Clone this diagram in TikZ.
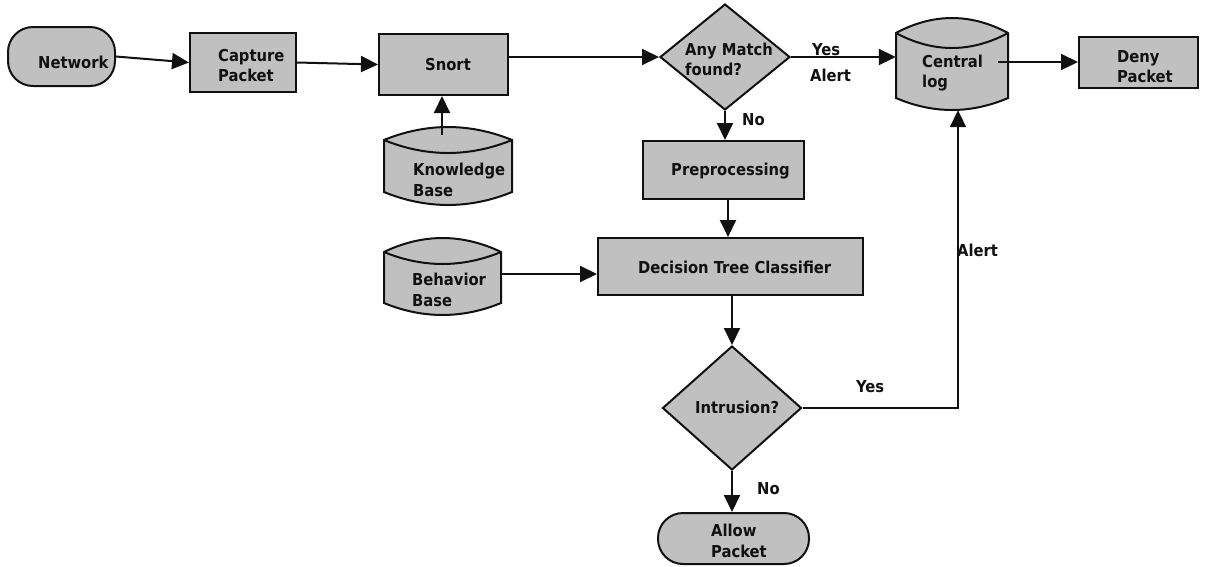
\documentclass[tikz,border=0pt]{standalone}
\usepackage{fontspec}
\setmainfont{DejaVu Sans}
\newfontfamily\lblfont{DejaVu Sans Condensed}
\usetikzlibrary{shapes.geometric,arrows.meta,calc}
\definecolor{gfill}{HTML}{C0C0C0}
\definecolor{ink}{HTML}{111111}
\begin{document}
\begin{tikzpicture}[x=1pt,y=-1pt,
  lbl/.style={anchor=base west, inner sep=0, text=ink, font=\lblfont\bfseries\fontsize{16.4}{20}\selectfont},
  shp/.style={draw=ink, fill=gfill, line width=2pt, inner sep=0},
  boxnode/.style={shp, rectangle},
  pill/.style={shp, rectangle, rounded corners=25pt},
  decide/.style={shp, diamond},
  holder/.style={inner sep=0, draw=none, rectangle},
  conn/.style={draw=ink, line width=2pt, -{Triangle[length=17pt,width=16pt]}},
  plain/.style={draw=ink, line width=2pt}
]
\useasboundingbox (0,0) rectangle (1208,566);

% ---------- shapes ----------
\node[pill, minimum width=107pt, minimum height=59pt] (net) at (61.5,56.5) {};
\node[boxnode, minimum width=106pt, minimum height=59pt] (cap) at (243,62.5) {};
\node[boxnode, minimum width=129pt, minimum height=61pt] (snort) at (443.5,64.5) {};
\node[decide, minimum width=130pt, minimum height=106pt] (match) at (725,57) {};
\node[boxnode, minimum width=119pt, minimum height=51pt] (deny) at (1138.5,62.5) {};
\node[boxnode, minimum width=161pt, minimum height=58pt] (pre) at (723.5,170) {};
\node[boxnode, minimum width=265pt, minimum height=57pt] (dtc) at (730.5,266.5) {};
\node[decide, minimum width=139pt, minimum height=124pt] (intr) at (732,408) {};
\node[pill, minimum width=151pt, minimum height=51pt] (allow) at (733.5,538.5) {};

% cylinders (data stores)
\node[holder, minimum width=128pt, minimum height=78pt] (kb) at (448,166) {};
\filldraw[shp] (384,140) parabola bend (448,127) (512,140) -- (512,192)
   parabola bend (448,205) (384,192) -- cycle;
\draw[plain] (384,140) parabola bend (448,153) (512,140);

\node[holder, minimum width=117pt, minimum height=77pt] (bb) at (442.5,276.5) {};
\filldraw[shp] (384,252) parabola bend (442.5,238) (501,252) -- (501,303)
   parabola bend (442.5,315) (384,303) -- cycle;
\draw[plain] (384,252) parabola bend (442.5,264) (501,252);

\node[holder, minimum width=112pt, minimum height=92pt] (cl) at (952,64) {};
\filldraw[shp] (896,33) parabola bend (952,18) (1008,33) -- (1008,98)
   parabola bend (952,110) (896,98) -- cycle;
\draw[plain] (896,33) parabola bend (952,48) (1008,33);

% ---------- connectors ----------
\coordinate (kbout) at (442,135);
\coordinate (bbout) at (501,274);
\coordinate (clout) at (998,62);

\draw[conn] (net.east) -- (cap.west);
\draw[conn] (cap.east) -- (snort.west);
\draw[conn] (kbout) -- (kbout |- snort.south);
\draw[conn] (snort.east |- match.west) -- (match.west);
\draw[conn] (match.east) -- (match.east -| cl.west);
\draw[conn] (match.south) -- (match.south |- pre.north);
\draw[conn] ([xshift=4.5pt]pre.south) -- ([xshift=4.5pt]pre.south |- dtc.north);
\draw[conn] (bbout) -- (bbout -| dtc.west);
\draw[conn] (intr.north |- dtc.south) -- (intr.north);
\draw[conn] (intr.east) -| ([xshift=6pt]cl.south);
\draw[conn] (intr.south) -- (intr.south |- allow.north);
\draw[conn] (clout) -- (clout -| deny.west);

% ---------- texts ----------
\node[lbl] (tnet) at (38,68) {Network};
\node[lbl] (tcap1) at (218,61) {Capture};
\node[lbl] (tcap2) at (218,81) {Packet};
\node[lbl] (tsnort) at (425,70) {Snort};
\node[lbl] (tkb1) at (413,175) {Knowledge};
\node[lbl] (tkb2) at (413,196) {Base};
\node[lbl] (tm1) at (685,55) {Any Match};
\node[lbl] (tm2) at (685,75) {found?};
\node[lbl] (tyes1) at (812,55) {Yes};
\node[lbl] (talert1) at (810,81) {Alert};
\node[lbl] (tno1) at (742,125) {No};
\node[lbl] (tcl1) at (922,67) {Central};
\node[lbl] (tcl2) at (922,87) {log};
\node[lbl] (tdeny1) at (1117,62) {Deny};
\node[lbl] (tdeny2) at (1117,82) {Packet};
\node[lbl] (tpre) at (671,175) {Preprocessing};
\node[lbl] (tdtc) at (638,273) {Decision Tree Classifier};
\node[lbl] (tbb1) at (412,285) {Behavior};
\node[lbl] (tbb2) at (412,306) {Base};
\node[lbl] (tint) at (695,413) {Intrusion?};
\node[lbl] (tyes2) at (856,392) {Yes};
\node[lbl] (talert2) at (957,256) {Alert};
\node[lbl] (tno2) at (757,494) {No};
\node[lbl] (tal1) at (711,536) {Allow};
\node[lbl] (tal2) at (711,557) {Packet};
\end{tikzpicture}
\end{document}
